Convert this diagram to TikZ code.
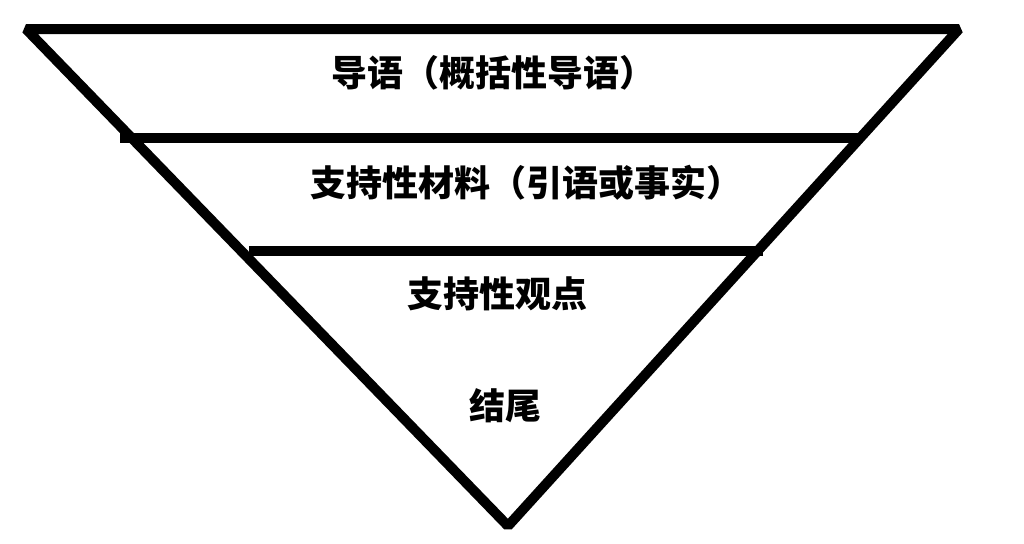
\documentclass[tikz,border=0pt]{standalone}
\usepackage{fontspec}
\newfontfamily\cjk{Noto Sans CJK SC}
\begin{document}
\begin{tikzpicture}[x=0.5pt,y=-0.5pt]
            \tikzstyle{every node}+=[inner sep=0pt, font=\cjk\bfseries\fontsize{18}{18}\selectfont]
            \tikzstyle{edge}=[black, line width=5pt]
            \useasboundingbox (0,0) rectangle (1024,543);
            \coordinate (tl) at (26,29);
            \coordinate (tr) at (959,29);
            \coordinate (ap) at (508,526);
            \draw [edge, line join=bevel] (tl) -- (tr) -- (ap) -- cycle;
            \draw [edge] (120,138) -- (861,138);
            \draw [edge] (249,251) -- (763,251);
            \node (lead) at (493,73) {导语（概括性导语）};
            \node (quote) at (526,183) {支持性材料（引语或事实）};
            \node (point) at (497,294) {支持性观点};
            \node (end) at (505,406) {结尾};
        \end{tikzpicture}
\end{document}
